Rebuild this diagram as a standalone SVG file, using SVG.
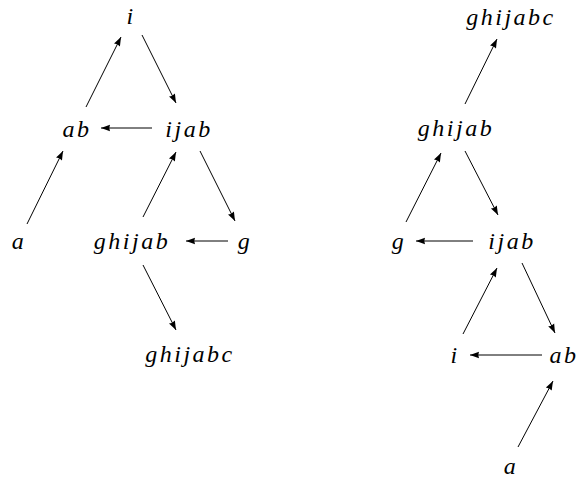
<svg xmlns="http://www.w3.org/2000/svg" width="580" height="480" viewBox="0 0 580 480">
<style>
.e line{stroke:#000;stroke-width:1;marker-end:url(#ah)}
</style>
<defs>
<marker id="ah" markerUnits="userSpaceOnUse" markerWidth="12" markerHeight="10" viewBox="-10 -4 12 8" refX="0" refY="0" orient="auto">
<path d="M0,0 L-9,-3.3 Q-7.5,0 -9,3.3 Z" fill="#000"/>
</marker>
</defs>
<rect width="580" height="480" fill="#fff"/>
<g font-family="Liberation Serif, Times New Roman, serif" font-style="italic" font-size="24" letter-spacing="2.5" text-anchor="middle" fill="#000">
<g id="left-tree">
<g id="L-i"><text x="131" y="24">i</text></g>
<g id="L-ab"><text x="77" y="137">ab</text></g>
<g id="L-ijab"><text x="189" y="137">ijab</text></g>
<g id="L-a"><text x="19" y="249">a</text></g>
<g id="L-ghijab"><text x="132" y="249">ghijab</text></g>
<g id="L-g"><text x="245" y="249">g</text></g>
<g id="L-ghijabc"><text x="190" y="362">ghijabc</text></g>
</g>
<g id="right-tree">
<g id="R-ghijabc"><text x="511" y="25">ghijabc</text></g>
<g id="R-ghijab"><text x="456" y="136">ghijab</text></g>
<g id="R-g"><text x="399" y="249">g</text></g>
<g id="R-ijab"><text x="512" y="249">ijab</text></g>
<g id="R-i"><text x="455" y="363">i</text></g>
<g id="R-ab"><text x="564" y="363">ab</text></g>
<g id="R-a"><text x="511" y="474">a</text></g>
</g>
</g>
<g id="connectors" class="e">
<line x1="86" y1="107" x2="121" y2="37"/>
<line x1="142" y1="35" x2="176" y2="103"/>
<line x1="152" y1="128" x2="101" y2="128"/>
<line x1="27" y1="224" x2="63" y2="151"/>
<line x1="143" y1="217" x2="176" y2="152"/>
<line x1="200" y1="151" x2="235" y2="221"/>
<line x1="228" y1="241" x2="186" y2="241"/>
<line x1="143" y1="265" x2="176" y2="330"/>
<line x1="465" y1="104" x2="497" y2="39"/>
<line x1="406" y1="222" x2="441" y2="153"/>
<line x1="465" y1="151" x2="498" y2="215"/>
<line x1="473" y1="241" x2="416" y2="241"/>
<line x1="463" y1="334" x2="497" y2="268"/>
<line x1="522" y1="263" x2="555" y2="333"/>
<line x1="542" y1="355" x2="470" y2="355"/>
<line x1="518" y1="447" x2="553" y2="381"/>
</g>
</svg>
